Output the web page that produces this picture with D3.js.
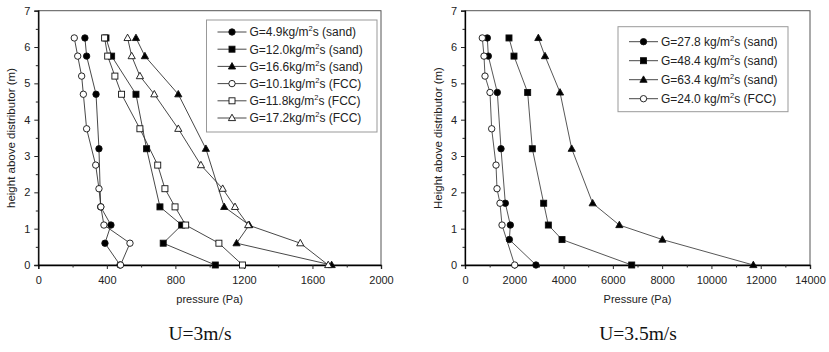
<!DOCTYPE html>
<html>
<head>
<meta charset="utf-8">
<script src="https://cdn.jsdelivr.net/npm/d3@7"></script>
<style>
  body { margin: 0; background: #fff; }
  svg { display: block; font-family: "Liberation Sans", Arial, sans-serif; }
</style>
</head>
<body>
<div id="chart"></div>
<script>
// ---- data ----
// U = 3 m/s
const heightSandL = [6.25, 5.75, 4.7, 3.2, 1.6, 1.1, 0.6, 0];
const heightFccL = [6.25, 5.75, 5.2, 4.7, 3.75, 2.75, 2.1, 1.6, 1.1, 0.6, 0];
const sand49 = [272, 282, 337, 354, 364, 424, 389, 477];
const sand120 = [395, 428, 570, 632, 710, 837, 729, 1033];
const sand166 = [570, 622, 817, 978, 1085, 1231, 1157, 1712];
const fcc101 = [210, 230, 253, 263, 282, 335, 354, 365, 383, 535, 480];
const fcc118 = [387, 405, 447, 486, 593, 697, 739, 798, 860, 1054, 1192];
const fcc172 = [521, 545, 593, 677, 817, 949, 1076, 1148, 1225, 1529, 1692];
const labelsL = ["G=4.9kg/m|s (sand)", "G=12.0kg/m|s (sand)", "G=16.6kg/m|s (sand)",
                 "G=10.1kg/m|s (FCC)", "G=11.8kg/m|s (FCC)", "G=17.2kg/m|s (FCC)"];

// U = 3.5 m/s
const heightSandR = [6.25, 5.75, 4.75, 3.2, 1.7, 1.1, 0.7, 0];
const heightFccR = [6.25, 5.75, 5.2, 4.75, 3.75, 2.75, 2.1, 1.7, 1.1, 0];
const sand278 = [906, 947, 1312, 1461, 1636, 1840, 1800, 2880];
const sand484 = [1785, 1988, 2543, 2732, 3193, 3382, 3937, 6765];
const sand634 = [2976, 3247, 3856, 4330, 5180, 6263, 8011, 11700];
const fcc240 = [702, 771, 812, 1014, 1082, 1258, 1299, 1420, 1502, 2016];
const labelsR = ["G=27.8 kg/m|s (sand)", "G=48.4 kg/m|s (sand)",
                 "G=63.4 kg/m|s (sand)", "G=24.0 kg/m|s (FCC)"];

const svg = d3.select("#chart").append("svg")
  .attr("width", 829).attr("height", 352);

// marker drawing
function marker(g, shape, filled, color){
  const fill = filled ? "#000" : "#fff";
  if (shape === "circle") {
    g.append("circle").attr("r", 3.2).attr("fill", fill).attr("stroke", color).attr("stroke-width", 0.9);
  } else if (shape === "square") {
    g.append("rect").attr("x", -3).attr("y", -3).attr("width", 6).attr("height", 6)
      .attr("fill", fill).attr("stroke", color).attr("stroke-width", 0.9);
  } else {
    g.append("path").attr("d", "M0,-3.8L3.6,2.6L-3.6,2.6Z")
      .attr("fill", fill).attr("stroke", color).attr("stroke-width", 0.9);
  }
}

function drawPanel(p){
  const x = d3.scaleLinear().domain([0, p.xMax]).range([p.left, p.right]);
  const y = d3.scaleLinear().domain([0, 7]).range([265, 10.7]);
  const g = svg.append("g");

  // frame
  g.append("rect").attr("x", p.left).attr("y", y(7))
    .attr("width", p.right - p.left).attr("height", y(0) - y(7))
    .attr("fill", "none").attr("stroke", "#555").attr("stroke-width", 1);

  // axes with minor ticks
  g.append("g").attr("transform", "translate(0,265)")
    .call(d3.axisBottom(x).tickValues(d3.range(0, p.xMax + 1, p.xStep)).tickSize(4).tickPadding(7).tickFormat(d3.format("d")));
  g.append("g").attr("transform", "translate(0,265)")
    .call(d3.axisBottom(x).tickValues(d3.range(p.xStep / 2, p.xMax, p.xStep)).tickSize(2.5).tickFormat(""))
    .select(".domain").remove();
  g.append("g").attr("transform", `translate(${p.left},0)`)
    .call(d3.axisLeft(y).tickValues(d3.range(0, 8)).tickSize(4).tickPadding(4).tickFormat(d3.format("d")));
  g.append("g").attr("transform", `translate(${p.left},0)`)
    .call(d3.axisLeft(y).tickValues(d3.range(0.5, 7, 1)).tickSize(2.5).tickFormat(""))
    .select(".domain").remove();
  g.selectAll(".domain").attr("stroke", "#000").attr("stroke-width", 1.3);
  g.selectAll(".tick line").attr("stroke", "#222");
  g.selectAll(".tick text").attr("font-size", 11).attr("fill", "#222")
    .attr("font-family", "Liberation Sans, Arial, sans-serif");

  // titles
  g.append("text").attr("x", (p.left + p.right) / 2).attr("y", 303)
    .attr("text-anchor", "middle").attr("font-size", 11).attr("fill", "#222").text(p.xTitle);
  g.append("text").attr("transform", `translate(${p.yTitleX},138) rotate(-90)`)
    .attr("text-anchor", "middle").attr("font-size", 11.5).attr("fill", "#222").text(p.yTitle);
  g.append("text").attr("x", p.captionX).attr("y", 340)
    .attr("text-anchor", "middle").attr("font-size", 19.5)
    .attr("font-family", "Liberation Serif, Times New Roman, serif").attr("fill", "#111").text(p.caption);

  // series
  const line = d3.line().x(d => x(d[0])).y(d => y(d[1]));
  p.series.forEach(s => {
    const pts = s.values.map((v, i) => [v, s.heights[i]]);
    g.append("path").datum(pts).attr("d", line)
      .attr("fill", "none").attr("stroke", p.lineColor).attr("stroke-width", 0.9);
  });
  p.series.forEach(s => {
    s.values.forEach((v, i) => {
      const m = g.append("g").attr("transform", `translate(${x(v)},${y(s.heights[i])})`);
      marker(m, s.shape, s.filled, "#111");
    });
  });

  // legend
  const lg = g.append("g");
  lg.append("rect").attr("x", p.legend.x).attr("y", p.legend.y)
    .attr("width", p.legend.w).attr("height", p.legend.h)
    .attr("fill", "#fff").attr("stroke", "#999").attr("stroke-width", 1);
  p.series.forEach((s, i) => {
    const row = lg.append("g")
      .attr("transform", `translate(${p.legend.x + 11},${p.legend.y + p.legend.first + i * p.legend.step})`);
    row.append("line").attr("x1", 0).attr("x2", 29).attr("stroke", "#333").attr("stroke-width", 0.9);
    marker(row.append("g").attr("transform", "translate(14.5,0)"), s.shape, s.filled, "#111");
    const parts = s.label.split("|");
    const t = row.append("text").attr("x", 32).attr("y", 4.3)
      .attr("font-size", 12).attr("fill", "#222");
    t.append("tspan").text(parts[0]);
    t.append("tspan").attr("dy", -5).attr("font-size", 7.5).text("2");
    t.append("tspan").attr("dy", 5).text(parts[1]);
  });
}

drawPanel({
  left: 38.3, right: 381, xMax: 2000, xStep: 400,
  xTitle: "pressure (Pa)", yTitle: "height above distributor (m)", yTitleX: 15,
  caption: "U=3m/s", captionX: 200, lineColor: "#333",
  legend: {x: 206.5, y: 20, w: 170.5, h: 112, first: 12, step: 17.2},
  series: [
    {heights: heightSandL, values: sand49, shape: "circle", filled: true, label: labelsL[0]},
    {heights: heightSandL, values: sand120, shape: "square", filled: true, label: labelsL[1]},
    {heights: heightSandL, values: sand166, shape: "triangle", filled: true, label: labelsL[2]},
    {heights: heightFccL, values: fcc101, shape: "circle", filled: false, label: labelsL[3]},
    {heights: heightFccL, values: fcc118, shape: "square", filled: false, label: labelsL[4]},
    {heights: heightFccL, values: fcc172, shape: "triangle", filled: false, label: labelsL[5]}
  ]
});

drawPanel({
  left: 465, right: 810, xMax: 14000, xStep: 2000,
  xTitle: "Pressure (Pa)", yTitle: "Height above distributor (m)", yTitleX: 442,
  caption: "U=3.5m/s", captionX: 638, lineColor: "#444",
  legend: {x: 618, y: 26.7, w: 170, h: 85, first: 15, step: 19},
  series: [
    {heights: heightSandR, values: sand278, shape: "circle", filled: true, label: labelsR[0]},
    {heights: heightSandR, values: sand484, shape: "square", filled: true, label: labelsR[1]},
    {heights: heightSandR, values: sand634, shape: "triangle", filled: true, label: labelsR[2]},
    {heights: heightFccR, values: fcc240, shape: "circle", filled: false, label: labelsR[3]}
  ]
});
</script>
</body>
</html>
